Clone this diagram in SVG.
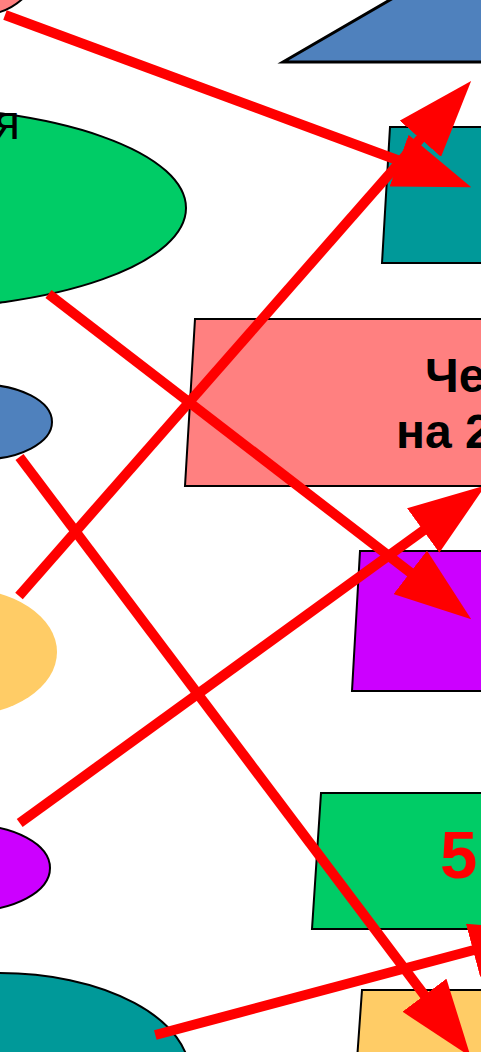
<svg xmlns="http://www.w3.org/2000/svg" width="481" height="1052" viewBox="0 0 481 1052">
<style>
.s{stroke:#000;stroke-width:2}
.t{font-family:"Liberation Sans",Arial,sans-serif}
.a{stroke:#FF0000;stroke-width:10;fill:none}
</style>
<defs>
<marker id="ah" markerUnits="userSpaceOnUse" viewBox="0 0 77 55" markerWidth="77" markerHeight="55" refX="1" refY="27.5" orient="auto">
<path d="M0,0 L77,27.5 L0,55 z" fill="#FF0000"/>
</marker>
</defs>
<rect width="481" height="1052" fill="#fff"/>
<g id="n-pink-ellipse"><ellipse cx="-20" cy="-40" rx="60" ry="55" fill="#FF8080" class="s"/></g>
<g id="n-blue-trap"><polygon points="283,62 395,-3 490,-3 490,62" fill="#4F81BD" stroke="#000" stroke-width="3"/></g>
<g id="n-green-ellipse"><ellipse cx="-100" cy="208" rx="286" ry="101" fill="#00CC66" class="s"/>
<text x="20" y="139" text-anchor="end" font-size="48" class="t" fill="#000">я</text></g>
<g id="n-teal-box"><polygon points="390,127 490,127 490,263 382,263" fill="#009999" class="s"/></g>
<g id="n-pink-box"><polygon points="195,319 490,319 490,486 185,486" fill="#FF8080" class="s"/>
<text class="t" font-size="48" font-weight="bold" fill="#000"><tspan x="425" y="392">Че</tspan><tspan x="396" y="448">на 2</tspan></text></g>
<g id="n-blue-ellipse"><ellipse cx="-20" cy="422" rx="72" ry="37.5" fill="#4F81BD" class="s"/></g>
<g id="n-purple-box"><polygon points="360,551 490,551 490,691 352,691" fill="#CC00FF" class="s"/></g>
<g id="n-orange-ellipse"><ellipse cx="-40" cy="652" rx="97" ry="64" fill="#FFCC66"/></g>
<g id="n-green-box"><polygon points="321,793 490,793 490,929 312,929" fill="#00CC66" class="s"/>
<text x="440" y="878" class="t" font-size="67" font-weight="bold" fill="#FF0000">5</text></g>
<g id="n-purple-ellipse"><ellipse cx="-30" cy="868" rx="80" ry="43" fill="#CC00FF" class="s"/></g>
<g id="n-orange-box"><polygon points="362,990 490,990 490,1060 357,1060" fill="#FFCC66" class="s"/></g>
<g id="n-teal-ellipse"><ellipse cx="0" cy="1075" rx="190" ry="102" fill="#009999" class="s"/></g>
<g id="connectors">
<line class="a" x1="5" y1="15" x2="400" y2="161" marker-end="url(#ah)"/>
<line class="a" x1="19" y1="596" x2="421" y2="138" marker-end="url(#ah)"/>
<line class="a" x1="48.5" y1="294" x2="411" y2="573" marker-end="url(#ah)"/>
<line class="a" x1="19.7" y1="823" x2="424" y2="530" marker-end="url(#ah)"/>
<line class="a" x1="19.5" y1="457" x2="425" y2="996" marker-end="url(#ah)"/>
<line class="a" x1="155.3" y1="1035" x2="474" y2="950" marker-end="url(#ah)"/>
</g>
</svg>
